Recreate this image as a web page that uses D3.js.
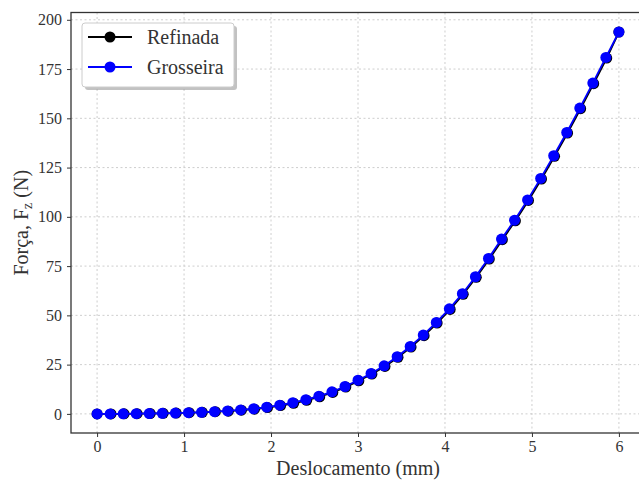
<!DOCTYPE html>
<html>
<head>
<meta charset="utf-8">
<script src="https://cdn.jsdelivr.net/npm/d3@7"></script>
<style>
  html, body { margin: 0; padding: 0; background: #fff; }
  svg { display: block; }
  text { font-family: "Liberation Serif", serif; fill: #333; }
</style>
</head>
<body>
<svg id="chart" width="639" height="482"></svg>
<script>
// Displacement (mm) for each mesh, and the vertical force Fz (N)
const displacement = [0, 0.15, 0.3, 0.45, 0.6, 0.75, 0.9, 1.05, 1.2, 1.35, 1.5, 1.65, 1.8, 1.95,
  2.1, 2.25, 2.4, 2.55, 2.7, 2.85, 3.0, 3.15, 3.3, 3.45, 3.6, 3.75, 3.9, 4.05, 4.2, 4.35,
  4.5, 4.65, 4.8, 4.95, 5.1, 5.25, 5.4, 5.55, 5.7, 5.85, 6.0];
const displacementRefined = [0, 0.16, 0.31, 0.46, 0.61, 0.76, 0.91, 1.06, 1.21, 1.36, 1.51, 1.66, 1.81, 1.96,
  2.11, 2.26, 2.41, 2.56, 2.71, 2.86, 3.01, 3.16, 3.31, 3.46, 3.61, 3.76, 3.91, 4.06, 4.21, 4.36,
  4.51, 4.66, 4.81, 4.96, 5.11, 5.26, 5.41, 5.56, 5.71, 5.86, 6.0];
const forceRefined = [0, 0, 0.05, 0.1, 0.2, 0.3, 0.4, 0.6, 0.8, 1.1, 1.4, 1.9, 2.4, 3.2,
  4.2, 5.4, 6.9, 8.7, 10.9, 13.6, 16.8, 20.2, 24.1, 28.7, 33.9, 39.7, 46.1, 53.0, 60.7, 69.3,
  78.6, 88.4, 98.0, 108.3, 119.2, 130.7, 142.5, 154.9, 167.6, 180.6, 193.8];
const forceCoarse = [0, 0, 0.05, 0.1, 0.2, 0.3, 0.4, 0.6, 0.8, 1.1, 1.5, 2.0, 2.6, 3.4,
  4.4, 5.7, 7.2, 9.0, 11.2, 13.9, 17.1, 20.5, 24.4, 29.0, 34.2, 40.0, 46.4, 53.3, 61.0, 69.6,
  78.9, 88.7, 98.3, 108.6, 119.5, 131.0, 142.8, 155.2, 167.9, 180.9, 193.8];

const xTicks = [0, 1, 2, 3, 4, 5, 6];
const yTicks = [0, 25, 50, 75, 100, 125, 150, 175, 200];
const seriesNames = ["Refinada", "Grosseira"];
const seriesColors = ["#000000", "#0000ff"];

const series = [
  { name: seriesNames[0], color: seriesColors[0],
    points: displacementRefined.map((d, i) => [d, forceRefined[i]]) },
  { name: seriesNames[1], color: seriesColors[1],
    points: displacement.map((d, i) => [d, forceCoarse[i]]) }
];

const svg = d3.select("#chart");
const plotLeft = 71, plotRight = 645, plotTop = 12.5, plotBottom = 433;

const x = d3.scaleLinear().domain([-0.3, 6.3]).range([plotLeft, plotRight]);
const y = d3.scaleLinear().domain([-9.7, 203.7]).range([plotBottom, plotTop]);

// dotted grid
const grid = svg.append("g");
grid.selectAll("line.gx").data(xTicks).join("line")
  .attr("x1", d => x(d)).attr("x2", d => x(d))
  .attr("y1", plotTop).attr("y2", plotBottom)
  .attr("stroke", "#c8c8c8").attr("stroke-width", 0.9).attr("stroke-dasharray", "2,2.5");
grid.selectAll("line.gy").data(yTicks).join("line")
  .attr("y1", d => y(d)).attr("y2", d => y(d))
  .attr("x1", plotLeft).attr("x2", plotRight)
  .attr("stroke", "#c8c8c8").attr("stroke-width", 0.9).attr("stroke-dasharray", "2,2.5");

// axes
const xAxis = svg.append("g").attr("transform", `translate(0,${plotBottom})`)
  .call(d3.axisBottom(x).tickValues(xTicks).tickFormat(d3.format("d")).tickSize(4).tickPadding(4).tickSizeOuter(0));
const yAxis = svg.append("g").attr("transform", `translate(${plotLeft},0)`)
  .call(d3.axisLeft(y).tickValues(yTicks).tickFormat(d3.format("d")).tickSize(4).tickPadding(5).tickSizeOuter(0));
[xAxis, yAxis].forEach(g => {
  g.select(".domain").remove();
  g.selectAll(".tick line").attr("stroke", "#333").attr("stroke-width", 1);
  g.selectAll(".tick text").attr("font-size", 16).attr("fill", "#333")
    .attr("font-family", "'Liberation Serif', serif");
});

// frame
svg.append("rect").attr("x", plotLeft).attr("y", plotTop)
  .attr("width", plotRight - plotLeft).attr("height", plotBottom - plotTop)
  .attr("fill", "none").attr("stroke", "#333").attr("stroke-width", 1.3);

// series
const line = d3.line().x(d => x(d[0])).y(d => y(d[1]));
series.forEach(s => {
  const g = svg.append("g");
  g.append("path").datum(s.points).attr("d", line)
    .attr("fill", "none").attr("stroke", s.color).attr("stroke-width", 1.8);
  g.selectAll("circle").data(s.points).join("circle")
    .attr("cx", d => x(d[0])).attr("cy", d => y(d[1])).attr("r", 5.5)
    .attr("fill", s.color);
});

// axis titles
svg.append("text").attr("x", 358).attr("y", 475)
  .attr("text-anchor", "middle").attr("font-size", 20).text("Deslocamento (mm)");
const yl = svg.append("text").attr("transform", `translate(28,${(plotTop + plotBottom) / 2}) rotate(-90)`)
  .attr("text-anchor", "middle").attr("font-size", 20);
yl.append("tspan").text("Força, F");
yl.append("tspan").attr("font-size", 14).attr("dy", 4).text("z");
yl.append("tspan").attr("dy", -4).text(" (N)");

// legend
const lg = svg.append("g").attr("transform", "translate(82,23)");
lg.append("rect").attr("x", 3).attr("y", 3).attr("width", 152).attr("height", 64).attr("rx", 3)
  .attr("fill", "#999").attr("opacity", 0.6);
lg.append("rect").attr("x", 0).attr("y", 0).attr("width", 152).attr("height", 64).attr("rx", 3)
  .attr("fill", "#fff").attr("stroke", "#ccc").attr("stroke-width", 1);
series.forEach((s, i) => {
  const cy = 14 + i * 30;
  lg.append("line").attr("x1", 6).attr("x2", 50).attr("y1", cy).attr("y2", cy)
    .attr("stroke", s.color).attr("stroke-width", 1.8);
  lg.append("circle").attr("cx", 28).attr("cy", cy).attr("r", 5.5).attr("fill", s.color);
  lg.append("text").attr("x", 65).attr("y", cy + 7).attr("font-size", 20).text(s.name);
});
</script>
</body>
</html>
